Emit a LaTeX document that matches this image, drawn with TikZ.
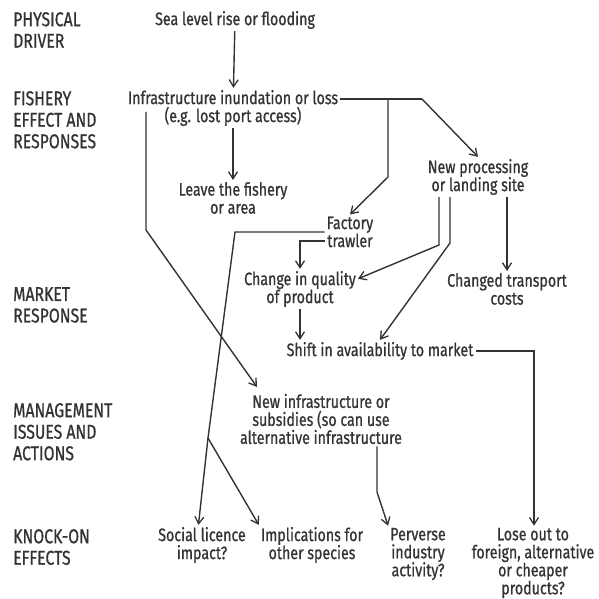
\documentclass[tikz,border=0pt]{standalone}
\usepackage{fontspec}
\setmainfont{Fira Sans}[FakeStretch=0.79,FakeBold=0.8]
\usetikzlibrary{arrows.meta,calc}
\definecolor{ink}{HTML}{333333}
\begin{document}
\begin{tikzpicture}[x=1pt,y=-1pt,
  txt/.style={align=center,inner sep=2pt,text=ink,
    font=\fontsize{18}{18}\selectfont},
  lbl/.style={align=left,anchor=north west,inner sep=0pt,text=ink,
    font=\fontsize{20}{21.5}\selectfont},
  link/.style={draw=ink,line width=1.4pt,line join=miter},
  arr/.style={link,-{Straight Barb[length=7pt,width=9pt,line width=1.3pt]}}]
\useasboundingbox (0,0) rectangle (598,599);

% row labels
\node[lbl] (l1) at (13,12)  {PHYSICAL\\DRIVER};
\node[lbl] (l2) at (13,91)  {FISHERY\\EFFECT AND\\RESPONSES};
\node[lbl] (l3) at (13,287) {MARKET\\RESPONSE};
\node[lbl] (l4) at (13,403) {MANAGEMENT\\ISSUES AND\\ACTIONS};
\node[lbl] (l5) at (13,529) {KNOCK-ON\\EFFECTS};

% boxes of text
\node[txt] (sea)       at (235,20)  {Sea level rise or flooding};
\node[txt] (infra)     at (233,108) {Infrastructure inundation or loss\\(e.g. lost port access)};
\node[txt] (leave)     at (233,198) {Leave the fishery\\or area};
\node[txt] (newproc)   at (478,177) {New processing\\or landing site};
\node[txt] (factory)   at (350,232) {Factory\\trawler};
\node[txt] (quality)   at (300,289) {Change in quality\\of product};
\node[txt] (transport) at (507,289) {Changed transport\\costs};
\node[txt] (shift)     at (380,351) {Shift in availability to market};
\node[txt] (newinfra)  at (321,419) {New infrastructure or\\subsidies (so can use\\alternative infrastructure};
\node[txt] (social)    at (202,545) {Social licence\\impact?};
\node[txt] (impl)      at (312,545) {Implications for\\other species};
\node[txt] (perverse)  at (418,554) {Perverse\\industry\\activity?};
\node[txt] (lose)      at (533,563) {Lose out to\\foreign, alternative\\or cheaper\\products?};

% bend points
\coordinate (j1) at (388,99);
\coordinate (j2) at (422,99);
\coordinate (j3) at (388,177);
\coordinate (k1) at (439,245);
\coordinate (k2) at (450,243);
\coordinate (k3) at (300,241);
\coordinate (m1) at (235,232);
\coordinate (m2) at (208,438);
\coordinate (n0) at (146,112);
\coordinate (n1) at (146,230);
\coordinate (n2) at (257,387);
\coordinate (p1) at (534,351);
\coordinate (q1) at (377,492);

% connectors
\draw[arr] (sea) -- (infra);
\draw[arr] (infra) -- (leave);
\draw[link] (infra.east |- j1) -- (j2);
\draw[arr] (j2) -- (newproc.north);
\draw[arr] (j1) -- (j3) -- (factory.north);
\draw[arr] (newproc.south -| transport) -- (transport.north);
\draw[arr] (newproc.south -| k1) -- (k1) -- (quality.10);
\draw[arr] (newproc.south -| k2) -- (k2) -- (shift.north);
\draw[arr] (factory.west |- k3) -- (k3) -- (quality.north);
\draw[arr] (quality.south) -- (quality.south |- shift.north);
\draw[link] (factory.west |- m1) -- (m1) -- (m2);
\draw[arr] (m2) -- (social.100);
\draw[arr] (m2) -- (impl.north west);
\draw[arr] (n0) -- (n1) -- (n2);
\draw[arr] (shift.east) -- (p1) -- (lose.north -| p1);
\draw[arr] (newinfra.south -| q1) -- (q1) -- (perverse.north west);
\end{tikzpicture}
\end{document}
